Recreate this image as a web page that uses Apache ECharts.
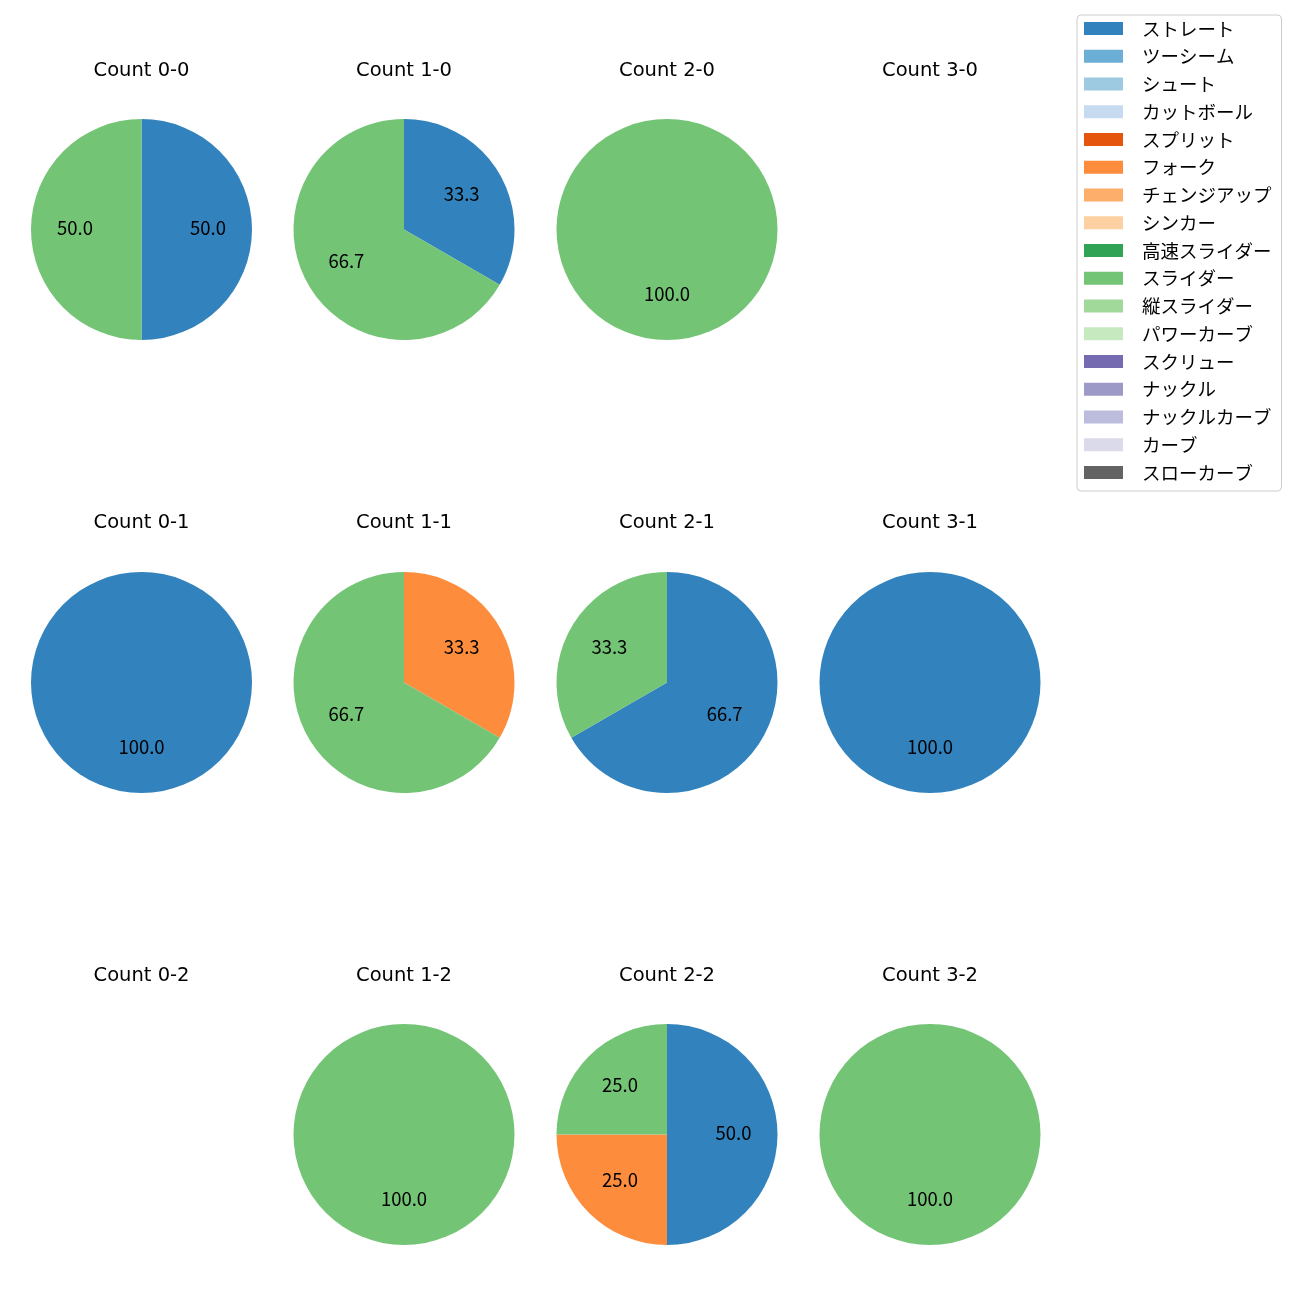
<!DOCTYPE html>
<html>
<head>
<meta charset="utf-8">
<script src="https://cdn.jsdelivr.net/npm/echarts@6/dist/echarts.min.js"></script>
<style>
html,body{margin:0;padding:0;background:#fff;}
#chart{width:1300px;height:1300px;}
</style>
</head>
<body>
<div id="chart"></div>
<script>
// ---- data ----
const pitchTypes = ['ストレート','ツーシーム','シュート','カットボール','スプリット','フォーク','チェンジアップ','シンカー','高速スライダー','スライダー','縦スライダー','パワーカーブ','スクリュー','ナックル','ナックルカーブ','カーブ','スローカーブ'];
const pitchColors = ['#3182bd','#6baed6','#9ecae1','#c6dbef','#e6550d','#fd8d3c','#fdae6b','#fdd0a2','#31a354','#74c476','#a1d99b','#c7e9c0','#756bb1','#9e9ac8','#bcbddc','#dadaeb','#636363'];
const countTitles = ['Count 0-0','Count 1-0','Count 2-0','Count 3-0','Count 0-1','Count 1-1','Count 2-1','Count 3-1','Count 0-2','Count 1-2','Count 2-2','Count 3-2'];
const count_0_0 = {'ストレート':1,'スライダー':1};
const count_1_0 = {'ストレート':1,'スライダー':2};
const count_2_0 = {'スライダー':1};
const count_3_0 = {};
const count_0_1 = {'ストレート':1};
const count_1_1 = {'フォーク':1,'スライダー':2};
const count_2_1 = {'ストレート':2,'スライダー':1};
const count_3_1 = {'ストレート':1};
const count_0_2 = {};
const count_1_2 = {'スライダー':1};
const count_2_2 = {'ストレート':2,'フォーク':1,'スライダー':1};
const count_3_2 = {'スライダー':1};
const countData = [count_0_0,count_1_0,count_2_0,count_3_0,count_0_1,count_1_1,count_2_1,count_3_1,count_0_2,count_1_2,count_2_2,count_3_2];

// ---- layout ----
const FONT = 'Noto Sans CJK JP';
const TITLE_FONT = 'DejaVu Sans';
const colX = [141.5, 404, 667, 930];
const rowY = [229.5, 682.5, 1134.5];
const titleY = [69, 521, 974];
const R = 110.5;

const chart = echarts.init(document.getElementById('chart'), null, {renderer:'canvas'});
const titles = [];
const pieSeries = [];
const labelSeries = [];
countData.forEach((cd, i) => {
  const c = i % 4, r = Math.floor(i / 4);
  titles.push({
    text: countTitles[i], left: colX[c], top: titleY[r] - 9, textAlign: 'center', padding: 0,
    textStyle: {fontFamily: TITLE_FONT, fontSize: 19.5, fontWeight: 'normal', color: '#000', lineHeight: 22}
  });
  const total = Object.values(cd).reduce((a, b) => a + b, 0);
  if (total === 0) return;
  const data = pitchTypes.map((n, k) => ({name: n, value: cd[n] || 0, itemStyle: {color: pitchColors[k]}}));
  pieSeries.push({
    type: 'pie', center: [colX[c], rowY[r]], radius: R, startAngle: 90, clockwise: true,
    label: {show: false}, labelLine: {show: false}, silent: true, animation: false,
    emphasis: {disabled: true}, itemStyle: {borderWidth: 0},
    data: data
  });
  labelSeries.push({
    type: 'pie', center: [colX[c], rowY[r]], radius: R * 1.15, startAngle: 90, clockwise: true,
    silent: true, animation: false, emphasis: {disabled: true}, z: 5,
    itemStyle: {color: 'rgba(0,0,0,0)', borderWidth: 0},
    labelLine: {show: false},
    label: {
      show: true, position: 'inside', color: '#000', fontFamily: FONT, fontSize: 18.5,
      offset: [0, -2],
      formatter: p => p.value > 0 ? (p.value / total * 100).toFixed(1) : ''
    },
    data: pitchTypes.map(n => ({name: n, value: cd[n] || 0}))
  });
});

chart.setOption({
  backgroundColor: '#fff',
  animation: false,
  title: titles,
  legend: {
    orient: 'vertical', left: 1077, top: 15,
    padding: [4, 10, 9, 7],
    itemWidth: 39, itemHeight: 13, itemGap: 8.75,
    icon: 'rect',
    borderColor: '#cccccc', borderWidth: 1, borderRadius: 4,
    backgroundColor: '#fff',
    selectedMode: false,
    textStyle: {fontFamily: FONT, fontSize: 18.5, color: '#000', lineHeight: 19, padding: [0, 0, 0, 14]},
    data: pitchTypes
  },
  series: pieSeries.concat(labelSeries)
});
</script>
</body>
</html>
